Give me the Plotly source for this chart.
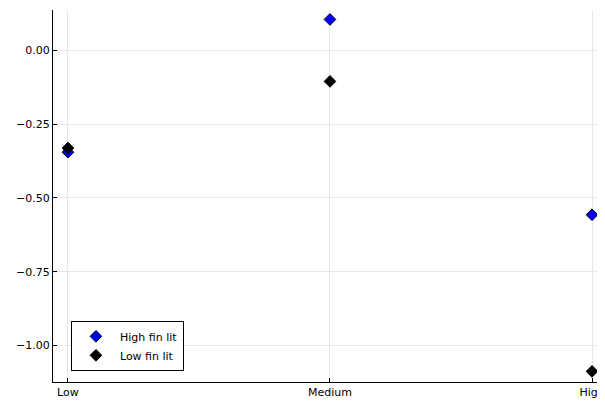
import plotly.graph_objects as go

categories = ["Low", "Medium", "High"]
high_fin_lit = [-0.345, 0.105, -0.557]
low_fin_lit = [-0.331, -0.105, -1.088]
y_tickvals = [0.0, -0.25, -0.5, -0.75, -1.0]
y_ticktext = ["0.00", "−0.25", "−0.50", "−0.75", "−1.00"]

fig = go.Figure()
fig.add_trace(go.Scatter(
    x=categories, y=high_fin_lit, mode="markers", name="High fin lit",
    cliponaxis=False,
    marker=dict(symbol="diamond", size=9, color="#0000ff",
                line=dict(color="black", width=1)),
))
fig.add_trace(go.Scatter(
    x=categories, y=low_fin_lit, mode="markers", name="Low fin lit",
    cliponaxis=False,
    marker=dict(symbol="diamond", size=9, color="black",
                line=dict(color="black", width=1)),
))

fig.update_layout(
    width=597, height=394,
    margin=dict(l=45, r=0, t=2, b=20),
    paper_bgcolor="white", plot_bgcolor="white",
    font=dict(family="DejaVu Sans", size=11, color="black"),
    showlegend=True,
    legend=dict(x=0.033, y=0.03, xanchor="left", yanchor="bottom",
                bordercolor="black", borderwidth=1, bgcolor="white",
                font=dict(size=11), tracegroupgap=0, itemwidth=38),
    xaxis=dict(type="category", range=[-0.057, 2.019],
               showline=True, linecolor="black", linewidth=1,
               showgrid=True, gridcolor="#e6e6e6", gridwidth=1,
               ticks="inside", ticklen=4, tickcolor="black",
               zeroline=False, mirror=False),
    yaxis=dict(range=[-1.124, 0.137],
               tickvals=y_tickvals, ticktext=y_ticktext,
               showline=True, linecolor="black", linewidth=1,
               showgrid=True, gridcolor="#e6e6e6", gridwidth=1,
               ticks="inside", ticklen=4, tickcolor="black",
               zeroline=False, mirror=False),
)

fig.write_html("out.html")
